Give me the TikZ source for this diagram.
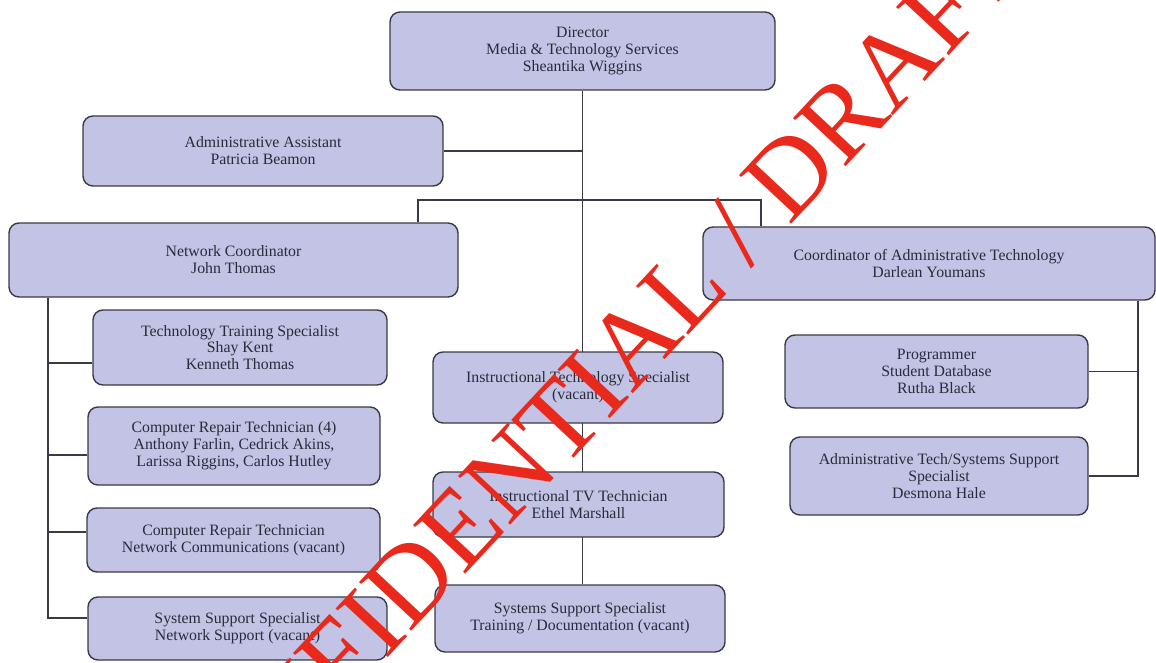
\documentclass[tikz,border=0pt]{standalone}
\usepackage{fontspec}
\setmainfont{Liberation Serif}
\usetikzlibrary{backgrounds,calc}
\definecolor{boxfill}{HTML}{C3C3E5}
\definecolor{boxline}{HTML}{3A3A46}
\definecolor{boxtext}{HTML}{2A2A3A}
\definecolor{draftred}{HTML}{E8291C}

\begin{document}
\begin{tikzpicture}[font=\fontsize{9}{9.6}\selectfont,
  post/.style={draw=boxline, fill=boxfill, rounded corners=0.2cm, line width=0.8pt, align=center, text=boxtext, inner sep=2pt},
  link/.style={draw=boxline, line width=0.6pt}]
  \useasboundingbox (0,0) rectangle (23.12,13.24);
  \clip (0,0) rectangle (23.12,13.24);
  % top of the chart
  \node[post, minimum width=7.7cm, minimum height=1.56cm] (dir) at (11.65,12.22) {Director\\Media \& Technology Services\\Sheantika Wiggins};
  \node[post, minimum width=7.2cm, minimum height=1.4cm] (asst) at (5.26,10.22) {Administrative Assistant\\Patricia Beamon};
  \node[post, minimum width=8.98cm, minimum height=1.48cm] (netc) at (4.67,8.04) {Network Coordinator\\John Thomas};
  \node[post, minimum width=9.04cm, minimum height=1.46cm] (coord) at (18.58,7.97) {Coordinator of Administrative Technology\\Darlean Youmans};
  % network side
  \node[post, minimum width=5.88cm, minimum height=1.5cm] (train) at (4.8,6.29) {Technology Training Specialist\\Shay Kent\\Kenneth Thomas};
  \node[post, minimum width=5.84cm, minimum height=1.56cm] (repair) at (4.68,4.32) {Computer Repair Technician (4)\\Anthony Farlin, Cedrick Akins,\\Larissa Riggins, Carlos Hutley};
  \node[post, minimum width=5.86cm, minimum height=1.28cm] (comms) at (4.67,2.44) {Computer Repair Technician\\Network Communications (vacant)};
  \node[post, minimum width=5.98cm, minimum height=1.26cm] (netsup) at (4.75,0.67) {System Support Specialist\\Network Support (vacant)};
  % instructional column
  \node[post, minimum width=5.8cm, minimum height=1.42cm] (instr) at (11.56,5.49) {Instructional Technology Specialist\\(vacant)};
  \node[post, minimum width=5.82cm, minimum height=1.3cm] (tvtech) at (11.57,3.15) {Instructional TV Technician\\Ethel Marshall};
  \node[post, minimum width=5.8cm, minimum height=1.34cm] (docu) at (11.6,0.87) {Systems Support Specialist\\Training / Documentation (vacant)};
  % administrative side
  \node[post, minimum width=6.06cm, minimum height=1.46cm] (prog) at (18.73,5.81) {Programmer\\Student Database\\Rutha Black};
  \node[post, minimum width=5.96cm, minimum height=1.56cm] (atss) at (18.78,3.72) {Administrative Tech/Systems Support\\Specialist\\Desmona Hale};

  \begin{scope}[on background layer]
    \coordinate (busL) at (8.36,9.24);
    \coordinate (busR) at (15.22,9.24);
    \coordinate (lbus) at (0.96,7.0);
    \coordinate (rbus) at (22.76,7.0);
    \draw[link] (dir.south) -- (dir.south |- docu.north);
    \draw[link] (asst.east) -- (asst.east -| dir.south);
    \draw[link] (netc.north -| busL) -- (busL) -- (busR) -- (coord.north -| busR);
    % left bus
    \path ([yshift=0.21cm]netsup.west) coordinate (netsup-in);
    \draw[link] (netc.south -| lbus) |- (netsup-in);
    \foreach \n/\s in {train/-0.31, repair/-0.18, comms/0.16} {
      \path ([yshift=\s cm]\n.west) coordinate (\n-in);
      \draw[link] (\n-in) -- (\n-in -| lbus);
    }
    % right bus
    \draw[link] (coord.south -| rbus) |- (atss.east);
    \draw[link] (prog.east) -- (prog.east -| rbus);
  \end{scope}

  \node[rotate=47, text=draftred, font=\fontsize{62}{62}\selectfont] (stamp) at (11.68,5.34) {CONFIDENTIAL / DRAFT};
\end{tikzpicture}
\end{document}
